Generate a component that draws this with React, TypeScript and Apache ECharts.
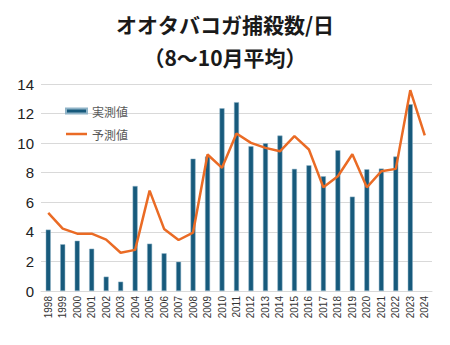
import React, { useEffect, useRef } from "react";
import * as echarts from "echarts";

const years = ["1998","1999","2000","2001","2002","2003","2004","2005","2006","2007","2008","2009","2010","2011","2012","2013","2014","2015","2016","2017","2018","2019","2020","2021","2022","2023","2024"];
const measured = [4.15, 3.16, 3.4, 2.86, 0.97, 0.63, 7.1, 3.2, 2.55, 1.98, 8.95, 9.1, 12.36, 12.77, 9.79, 9.99, 10.51, 8.26, 8.5, 7.76, 9.52, 6.38, 8.23, 8.28, 9.09, 12.63, null];
const predicted = [5.28, 4.22, 3.88, 3.88, 3.47, 2.59, 2.78, 6.79, 4.2, 3.45, 3.95, 9.23, 8.33, 10.65, 10.02, 9.68, 9.45, 10.47, 9.57, 7.01, 7.76, 9.25, 7.01, 8.1, 8.26, 13.58, 10.53];
const titleText = "オオタバコガ捕殺数/日";
const subtitleText = "（8〜10月平均）";

const FONT = "'Noto Sans CJK JP', 'Noto Sans', sans-serif";

export default function App() {
  const ref = useRef<HTMLDivElement>(null);
  useEffect(() => {
    const chart = echarts.init(ref.current!, null, { renderer: "svg" });
    chart.setOption({
      animation: false,
      backgroundColor: "#ffffff",
      title: [
        { text: titleText, left: "center", top: 8, textStyle: { fontFamily: FONT, fontSize: 21, fontWeight: "bold", color: "#1a1a1a" } },
        { text: subtitleText, left: "center", top: 41, textStyle: { fontFamily: FONT, fontSize: 21, fontWeight: "bold", color: "#1a1a1a" } },
      ],
      legend: {
        orient: "vertical",
        left: 60,
        top: 100,
        itemWidth: 21,
        itemHeight: 5,
        itemGap: 11,
        textStyle: { fontFamily: FONT, fontSize: 12, color: "#595959" },
        data: [
          { name: "実測値", icon: "rect" },
          { name: "予測値", icon: "path://M0,0H21V2.5H0Z" },
        ],
      },
      grid: { left: 41, right: 18, top: 84, bottom: 54 },
      xAxis: {
        type: "category",
        data: years,
        axisLine: { lineStyle: { color: "#d9d9d9", width: 1 } },
        axisTick: { show: false },
        axisLabel: { rotate: 90, fontSize: 10, color: "#333", fontFamily: "Liberation Sans, Arial, sans-serif", interval: 0, margin: 5 },
      },
      yAxis: {
        type: "value",
        min: 0,
        max: 14,
        interval: 2,
        axisLine: { show: false },
        axisTick: { show: false },
        splitLine: { lineStyle: { color: "#d9d9d9", width: 1 } },
        axisLabel: { fontSize: 15, color: "#222", fontFamily: "Liberation Sans, Arial, sans-serif", margin: 7 },
      },
      series: [
        {
          name: "実測値",
          type: "bar",
          data: measured,
          barWidth: 5,
          itemStyle: { color: "#175a7c", borderColor: "#8fb3c7", borderWidth: 0.5 },
        },
        {
          name: "予測値",
          type: "line",
          data: predicted,
          symbol: "none",
          lineStyle: { color: "#ea6b25", width: 2.5 },
          itemStyle: { color: "#ea6b25" },
        },
      ],
    });
    return () => chart.dispose();
  }, []);
  return <div ref={ref} style={{ width: 450, height: 345, position: "absolute", left: 0, top: 0 }} />;
}
